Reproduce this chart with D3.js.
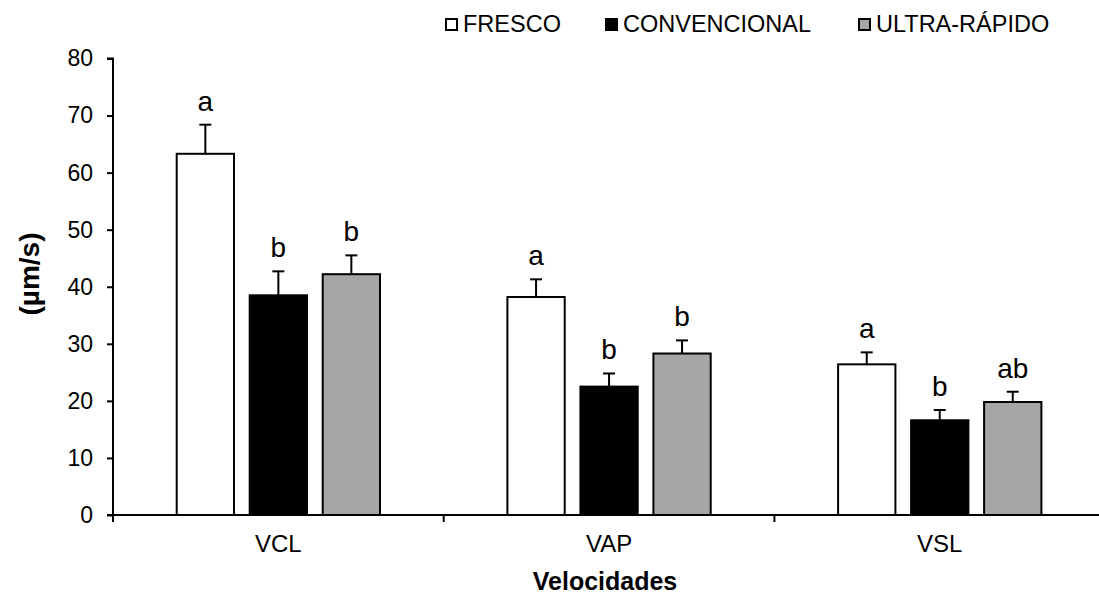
<!DOCTYPE html>
<html lang="pt-br">
<head>
  <meta charset="utf-8">
  <title>Velocidades</title>
  <script src="https://d3js.org/d3.v7.min.js"></script>
  <style>
    body { margin: 0; background: #fff; }
    svg text { font-family: Arial, "Liberation Sans", sans-serif; fill: #000; }
  </style>
</head>
<body>
<div id="chart"></div>
<script>
"use strict"

var categorias = ["VCL", "VAP", "VSL"];
var series = ["FRESCO", "CONVENCIONAL", "ULTRA-RÁPIDO"];
var cores = ["#ffffff", "#000000", "#a6a6a6"];

// medias e limite superior do erro, por serie (ordem de categorias)
var fresco      = [63.3, 38.2, 26.4];
var convencional = [38.5, 22.5, 16.6];
var ultra       = [42.2, 28.3, 19.8];
var frescoErro  = [68.4, 41.3, 28.5];
var convErro    = [42.7, 24.8, 18.4];
var ultraErro   = [45.5, 30.6, 21.6];
var frescoLetra = ["a", "a", "a"];
var convLetra   = ["b", "b", "b"];
var ultraLetra  = ["b", "b", "ab"];
var yTicks = [0, 10, 20, 30, 40, 50, 60, 70, 80];

var valores = [fresco, convencional, ultra];
var erros = [frescoErro, convErro, ultraErro];
var letras = [frescoLetra, convLetra, ultraLetra];

var dados = [];
categorias.forEach(function(c, i) {
  series.forEach(function(s, j) {
    dados.push({cat: c, serie: s, cor: cores[j], v: valores[j][i], e: erros[j][i], l: letras[j][i]});
  });
});

var W = 1099, H = 596;
var x0 = 113, y0 = 515, bandW = 330.7;

var svg = d3.select("#chart").append("svg")
  .attr("width", W).attr("height", H);

var x = d3.scaleBand().domain(categorias).range([x0, x0 + 3 * bandW]).padding(0);
var xs = d3.scaleBand().domain(series).range([63.7, 267]).paddingInner(0.215).paddingOuter(0);
var y = d3.scaleLinear().domain([0, 80]).range([y0, 58.5]);

// barras
var barras = svg.append("g");
barras.selectAll("rect").data(dados).enter().append("rect")
  .attr("x", d => x(d.cat) + xs(d.serie))
  .attr("y", d => y(d.v))
  .attr("width", xs.bandwidth())
  .attr("height", d => y0 - y(d.v))
  .attr("fill", d => d.cor)
  .attr("stroke", "#000")
  .attr("stroke-width", 2);

// barras de erro
var erro = svg.append("g").attr("stroke", "#000").attr("stroke-width", 2);
dados.forEach(function(d) {
  var cx = x(d.cat) + xs(d.serie) + xs.bandwidth() / 2;
  erro.append("line").attr("x1", cx).attr("x2", cx).attr("y1", y(d.v)).attr("y2", y(d.e));
  erro.append("line").attr("x1", cx - 6).attr("x2", cx + 6).attr("y1", y(d.e)).attr("y2", y(d.e));
});

// letras
svg.append("g").selectAll("text").data(dados).enter().append("text")
  .attr("x", d => x(d.cat) + xs(d.serie) + xs.bandwidth() / 2)
  .attr("y", d => y(d.e) - 14)
  .attr("text-anchor", "middle")
  .style("font-size", "28px")
  .text(d => d.l);

// eixo y
var eixoY = svg.append("g")
  .attr("transform", "translate(" + x0 + ",0)")
  .call(d3.axisLeft(y).tickValues(yTicks).tickSize(6).tickPadding(14));
eixoY.select(".domain").attr("d", "M0," + (y0 + 7) + "V" + y(80) + "H-6");
eixoY.selectAll("line, path").attr("stroke", "#000").attr("stroke-width", 2);
eixoY.selectAll("text").style("font-size", "23px").attr("font-family", null);

// eixo x
var eixoX = svg.append("g")
  .attr("transform", "translate(0," + y0 + ")");
eixoX.append("line")
  .attr("x1", x0 - 6).attr("x2", x0 + 3 * bandW)
  .attr("stroke", "#000").attr("stroke-width", 2);
eixoX.selectAll(".tk").data(categorias.slice(1)).enter().append("line")
  .attr("x1", d => x(d)).attr("x2", d => x(d))
  .attr("y1", 0).attr("y2", 7)
  .attr("stroke", "#000").attr("stroke-width", 2);
eixoX.selectAll(".lbl").data(categorias).enter().append("text")
  .attr("x", d => x(d) + x.bandwidth() / 2)
  .attr("y", 37)
  .attr("text-anchor", "middle")
  .style("font-size", "24px")
  .text(d => d);

// titulos
svg.append("text")
  .attr("x", 605).attr("y", 590)
  .attr("text-anchor", "middle")
  .style("font-size", "25px").style("font-weight", "bold")
  .text("Velocidades");

svg.append("text")
  .attr("transform", "translate(39,274) rotate(-90)")
  .attr("text-anchor", "middle")
  .style("font-size", "28px").style("font-weight", "bold")
  .text("(µm/s)");

// legenda
var legX = [446, 606, 859];
var leg = svg.append("g");
series.forEach(function(s, j) {
  leg.append("rect")
    .attr("x", legX[j]).attr("y", 19)
    .attr("width", 11).attr("height", 11)
    .attr("fill", cores[j]).attr("stroke", "#000").attr("stroke-width", 2);
  leg.append("text")
    .attr("x", legX[j] + 17).attr("y", 32)
    .style("font-size", "23.5px")
    .text(s);
});
</script>
</body>
</html>
